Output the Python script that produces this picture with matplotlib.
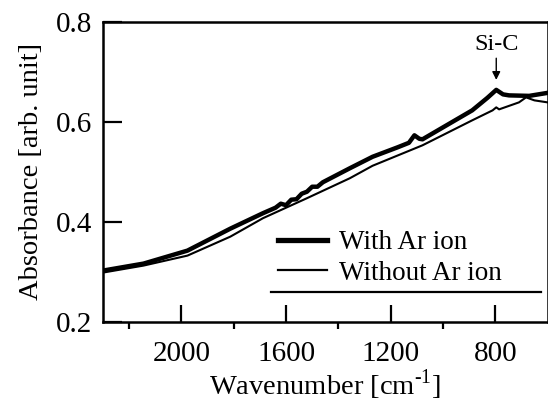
import numpy as np
import matplotlib.pyplot as plt

plt.rcParams['font.family'] = ['Liberation Serif', 'DejaVu Serif']
plt.rcParams['mathtext.fontset'] = 'custom'
plt.rcParams['mathtext.rm'] = 'Liberation Serif'

# wavenumber [cm-1] and absorbance
wn_with = [2300, 2145, 1977, 1813, 1688, 1640, 1620, 1600, 1580, 1560, 1540,
           1520, 1500, 1480, 1459, 1356, 1269, 1173, 1130, 1109, 1090, 1078,
           888, 830, 796, 770, 747, 670, 600]
abs_with = [0.302, 0.316, 0.342, 0.386, 0.417, 0.428, 0.436, 0.433, 0.444, 0.445,
            0.456, 0.460, 0.470, 0.470, 0.479, 0.507, 0.530, 0.549, 0.558, 0.573,
            0.566, 0.565, 0.623, 0.648, 0.664, 0.655, 0.653, 0.652, 0.658]

wn_without = [2300, 2145, 1977, 1813, 1688, 1520, 1356, 1269, 1078, 888, 810,
              796, 785, 709, 682, 650, 600]
abs_without = [0.298, 0.312, 0.332, 0.370, 0.407, 0.447, 0.487, 0.512, 0.553, 0.603,
               0.623, 0.629, 0.625, 0.639, 0.649, 0.643, 0.639]

fig = plt.figure(figsize=(5.48, 4.05), dpi=100)
ax = fig.add_axes([103/548, 1 - 321.5/405, 444.5/548, 299.5/405])

ax.plot(wn_with, abs_with, color='k', lw=3.2, label='With Ar ion')
ax.plot(wn_without, abs_without, color='k', lw=1.5, label='Without Ar ion')

ax.set_xlim(2300, 600)
ax.set_ylim(0.2, 0.8)
ax.set_xticks([2000, 1600, 1200, 800])
ax.set_xticks([2200, 1800, 1400, 1000], minor=True)
ax.set_yticks([0.2, 0.4, 0.6, 0.8])
ax.set_yticklabels(['0.2', '0.4', '0.6', '0.8'])

ax.tick_params(axis='both', direction='in', labelsize=21, width=1.6)
ax.tick_params(axis='y', length=14, pad=8)
ax.tick_params(axis='x', which='major', length=12, pad=14)
ax.tick_params(axis='x', which='minor', length=5, width=1.6)
for s in ax.spines.values():
    s.set_linewidth(1.8)

ax.set_xlabel(r'Wavenumber [cm$^{\text{-1}}$]', fontsize=20.5, labelpad=0)
ax.set_ylabel('Absorbance [arb. unit]', fontsize=20.5, labelpad=8)

ax.annotate('Si-C', xy=(796, 0.684), xytext=(796, 0.733), ha='center', va='bottom',
            fontsize=17.5,
            arrowprops=dict(arrowstyle='-|>', color='k', lw=1, mutation_scale=12,
                            shrinkA=0, shrinkB=0))

leg = ax.legend(frameon=False, loc='lower left', bbox_to_anchor=(0.394, 0.12),
                borderpad=0, borderaxespad=0, handlelength=1.8, handletextpad=0.45,
                labelspacing=0.2, fontsize=19.5)
leg.get_lines()[0].set_linewidth(3.8)
leg.get_lines()[1].set_linewidth(1.6)
ax.axhline(0.26, 0.378, 0.985, color='k', lw=1.6)

fig.savefig('out.png')
